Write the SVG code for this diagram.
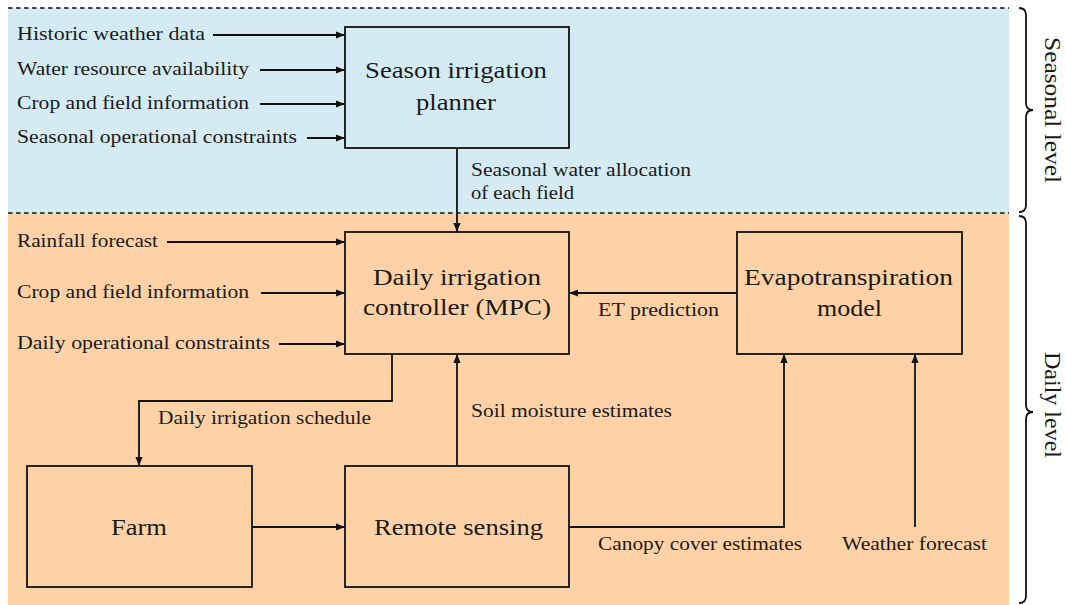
<svg xmlns="http://www.w3.org/2000/svg" width="1066" height="605" viewBox="0 0 1066 605">
<style>
text{font-family:"Liberation Serif","DejaVu Serif",serif;fill:#1a1a1a}
.s{font-size:19.5px}
.l{font-size:24px}
.box{fill:none;stroke:#111;stroke-width:1.8}
.c{fill:none;stroke:#111;stroke-width:1.8}
.dash{stroke:#111;stroke-width:1.5;stroke-dasharray:4.5 3.5}
.brace{fill:none;stroke:#111;stroke-width:1.8}
</style>
<defs>
<marker id="ah" viewBox="0 0 10 8" refX="10" refY="4" markerWidth="9.5" markerHeight="7.5" markerUnits="userSpaceOnUse" orient="auto">
<path d="M0,0 L10,4 L0,8 z" fill="#111"/>
</marker>
</defs>
<g id="backgrounds">
<rect x="8" y="8" width="1001" height="205" fill="#D5EBF4"/>
<rect x="8" y="213" width="1001" height="392" fill="#FED2A6"/>
<line class="dash" x1="8" y1="8" x2="1009" y2="8"/>
<line class="dash" x1="8" y1="213" x2="1009" y2="213"/>
</g>
<g id="season-planner">
<rect class="box" x="345" y="27" width="224" height="121"/>
<text class="l" x="365" y="78" textLength="182" lengthAdjust="spacingAndGlyphs">Season irrigation</text>
<text class="l" x="416" y="110" textLength="80" lengthAdjust="spacingAndGlyphs">planner</text>
</g>
<g id="daily-controller">
<rect class="box" x="345" y="232" width="224" height="122"/>
<text class="l" x="373" y="285" textLength="168" lengthAdjust="spacingAndGlyphs">Daily irrigation</text>
<text class="l" x="363" y="315" textLength="188" lengthAdjust="spacingAndGlyphs">controller (MPC)</text>
</g>
<g id="et-model">
<rect class="box" x="737" y="232" width="225" height="122"/>
<text class="l" x="744" y="285" textLength="209" lengthAdjust="spacingAndGlyphs">Evapotranspiration</text>
<text class="l" x="817" y="316" textLength="65" lengthAdjust="spacingAndGlyphs">model</text>
</g>
<g id="farm">
<rect class="box" x="27" y="466" width="225" height="121"/>
<text class="l" x="111" y="535" textLength="56" lengthAdjust="spacingAndGlyphs">Farm</text>
</g>
<g id="remote-sensing">
<rect class="box" x="345" y="466" width="224" height="121"/>
<text class="l" x="374" y="535" textLength="169" lengthAdjust="spacingAndGlyphs">Remote sensing</text>
</g>
<g id="input-labels">
<text class="s" x="17" y="40" textLength="188" lengthAdjust="spacingAndGlyphs">Historic weather data</text>
<text class="s" x="17" y="75" textLength="232" lengthAdjust="spacingAndGlyphs">Water resource availability</text>
<text class="s" x="17" y="109" textLength="232" lengthAdjust="spacingAndGlyphs">Crop and field information</text>
<text class="s" x="17" y="143" textLength="280" lengthAdjust="spacingAndGlyphs">Seasonal operational constraints</text>
<text class="s" x="17" y="247" textLength="141" lengthAdjust="spacingAndGlyphs">Rainfall forecast</text>
<text class="s" x="17" y="298" textLength="232" lengthAdjust="spacingAndGlyphs">Crop and field information</text>
<text class="s" x="17" y="349" textLength="253" lengthAdjust="spacingAndGlyphs">Daily operational constraints</text>
<text class="s" x="842" y="550" textLength="145" lengthAdjust="spacingAndGlyphs">Weather forecast</text>
</g>
<g id="connectors">
<line class="c" x1="213" y1="35" x2="345" y2="35" marker-end="url(#ah)"/>
<line class="c" x1="260" y1="70" x2="345" y2="70" marker-end="url(#ah)"/>
<line class="c" x1="260" y1="104" x2="345" y2="104" marker-end="url(#ah)"/>
<line class="c" x1="307" y1="138" x2="345" y2="138" marker-end="url(#ah)"/>
<line class="c" x1="457" y1="148" x2="457" y2="232" marker-end="url(#ah)"/>
<line class="c" x1="167" y1="242" x2="345" y2="242" marker-end="url(#ah)"/>
<line class="c" x1="261" y1="293" x2="345" y2="293" marker-end="url(#ah)"/>
<line class="c" x1="279" y1="344" x2="345" y2="344" marker-end="url(#ah)"/>
<line class="c" x1="737" y1="293" x2="569" y2="293" marker-end="url(#ah)"/>
<polyline class="c" points="392,354 392,401 139,401 139,466" marker-end="url(#ah)"/>
<line class="c" x1="252" y1="527" x2="345" y2="527" marker-end="url(#ah)"/>
<line class="c" x1="457" y1="466" x2="457" y2="354" marker-end="url(#ah)"/>
<polyline class="c" points="569,527 784,527 784,354" marker-end="url(#ah)"/>
<line class="c" x1="915" y1="527" x2="915" y2="354" marker-end="url(#ah)"/>
<text class="s" x="471" y="176" textLength="220" lengthAdjust="spacingAndGlyphs">Seasonal water allocation</text>
<text class="s" x="471" y="199" textLength="103" lengthAdjust="spacingAndGlyphs">of each field</text>
<text class="s" x="598" y="316" textLength="121" lengthAdjust="spacingAndGlyphs">ET prediction</text>
<text class="s" x="158" y="424" textLength="213" lengthAdjust="spacingAndGlyphs">Daily irrigation schedule</text>
<text class="s" x="471" y="417" textLength="201" lengthAdjust="spacingAndGlyphs">Soil moisture estimates</text>
<text class="s" x="598" y="550" textLength="204" lengthAdjust="spacingAndGlyphs">Canopy cover estimates</text>
</g>
<g id="level-braces">
<path class="brace" d="M1019,8 Q1026,8 1026,15 L1026,103 Q1026,110 1033,110 Q1026,110 1026,117 L1026,205 Q1026,212 1019,212"/>
<path class="brace" d="M1019,216 Q1026,216 1026,223 L1026,405 Q1026,412 1033,412 Q1026,412 1026,419 L1026,596 Q1026,603 1019,603"/>
<text class="l" transform="translate(1045,37) rotate(90)" textLength="146" lengthAdjust="spacingAndGlyphs">Seasonal level</text>
<text class="l" transform="translate(1045,352) rotate(90)" textLength="106" lengthAdjust="spacingAndGlyphs">Daily level</text>
</g>
</svg>
